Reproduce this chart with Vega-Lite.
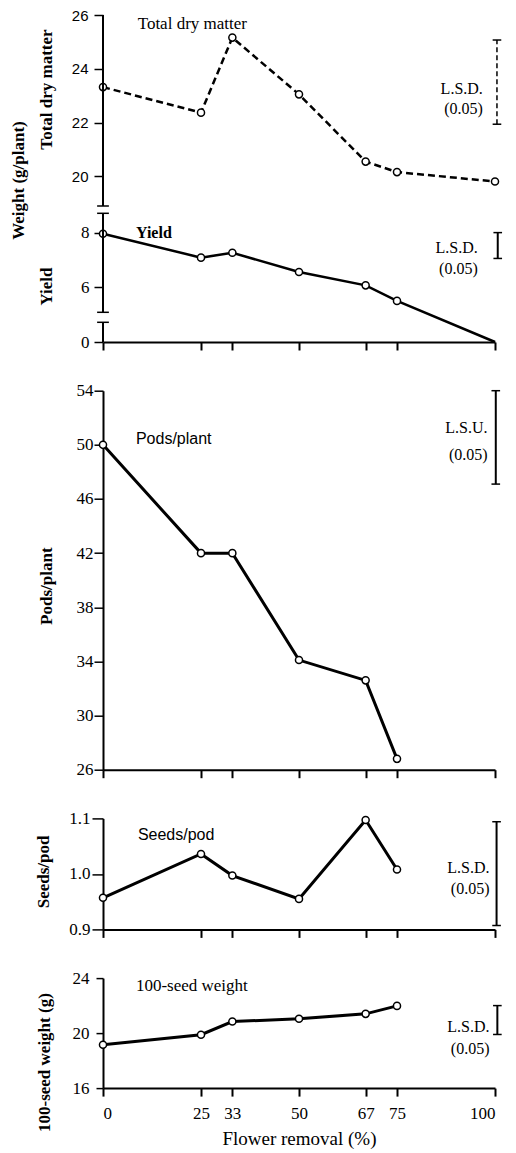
{
"$schema": "https://vega.github.io/schema/vega-lite/v6.json",
"background": "white",
"padding": {"left": 9, "top": 8, "right": 5, "bottom": 5},
"datasets": {"d": [
{"removal":0,"tdm":23.32,"yield":7.96,"pods":50.0,"seeds":0.957,"sw":19.15},
{"removal":25,"tdm":22.37,"yield":7.08,"pods":42.0,"seeds":1.036,"sw":19.88},
{"removal":33,"tdm":25.16,"yield":7.26,"pods":42.0,"seeds":0.997,"sw":20.84},
{"removal":50,"tdm":23.05,"yield":6.55,"pods":34.1,"seeds":0.955,"sw":21.04},
{"removal":67,"tdm":20.55,"yield":6.06,"pods":32.6,"seeds":1.097,"sw":21.4},
{"removal":75,"tdm":20.16,"yield":5.49,"pods":26.8,"seeds":1.008,"sw":21.98},
{"removal":100,"tdm":19.81,"yield":0,"pods":null,"seeds":null,"sw":null}
]},
"config": {
  "view": {"stroke": null},
  "axis": {"grid": false, "domainColor": "black", "domainWidth": 2, "tickColor": "black", "tickWidth": 1.5, "tickSize": 8, "labelColor": "black", "labelFont": "Liberation Serif", "labelFontSize": 17, "titleFont": "Liberation Serif", "titleFontSize": 17, "titleFontWeight": "bold", "titleColor": "black"}
},
"bounds": "flush",
"spacing": 48.7,
"vconcat": [
  {"width": 392, "height": 327,
   "data": {"name": "d"},
   "resolve": {"axis": {"x": "independent", "y": "independent"}},
   "layer": [
    {"mark": {"type":"line","color":"black","strokeWidth":2.5,"strokeDash":[7,4]},
     "encoding": {
      "x": {"field":"removal","type":"quantitative","scale":{"domain":[0,100],"nice":false,"zero":false},"axis":null},
      "y": {"field":"tdm","type":"quantitative","scale":{"domain":[0,0.71,5.07,8.71,18.9,26],"range":[327,307.3,297.3,198.3,191,0],"nice":false,"zero":false},
            "axis":{"values":[20,22,24,26],"domain":false,"title":"Total dry matter","titleX":-57,"titleY":74,"titleBaseline":"middle","labelFont":"Liberation Sans","labelFontSize":15,"labelPadding":6,"tickSize":9}}}},
    {"mark": {"type":"point","shape":"circle","filled":false,"fill":"white","fillOpacity":1,"stroke":"black","strokeWidth":1.5,"size":50,"opacity":1},
     "encoding": {"x":{"field":"removal","type":"quantitative","axis":null},
      "y":{"field":"tdm","type":"quantitative","axis":{"orient":"left","title":"Weight (g/plant)","labels":false,"ticks":false,"domain":false,"titleX":-85,"titleY":165,"titleBaseline":"middle"}}}},
    {"mark": {"type":"line","color":"black","strokeWidth":2.5},
     "encoding": {
      "x": {"field":"removal","type":"quantitative","axis":{"values":[0,25,33,50,67,75,100],"labels":false,"title":null,"tickSize":8,"tickWidth":2}},
      "y": {"field":"yield","type":"quantitative",
            "axis":{"orient":"left","values":[0,6,8],"title":"Yield","titleX":-57,"titleY":271,"titleBaseline":"middle","domain":false,"labelFont":"Liberation Serif","labelPadding":5,"tickSize":9}}}},
    {"transform":[{"filter":"datum.removal < 100"}],
     "mark": {"type":"point","shape":"circle","filled":false,"fill":"white","fillOpacity":1,"stroke":"black","strokeWidth":1.5,"size":50,"opacity":1},
     "encoding": {"x":{"field":"removal","type":"quantitative","axis":null},"y":{"field":"yield","type":"quantitative","axis":null}}},
    {"data":{"values":[{"lo":18.9,"hi":26},{"lo":5.07,"hi":8.71},{"lo":0,"hi":0.71}]},"mark":{"type":"rule","color":"black","strokeWidth":2},
     "encoding":{"x":{"datum":0,"axis":null},"y":{"field":"lo","type":"quantitative","axis":null},"y2":{"field":"hi"}}},
    {"data":{"values":[{"v":18.9},{"v":8.71},{"v":5.07},{"v":0.71}]},"mark":{"type":"rule","color":"black","strokeWidth":1.5},
     "encoding":{"x":{"datum":-1.5,"axis":null},"x2":{"datum":1.5},"y":{"field":"v","type":"quantitative","axis":null}}},
    {"data":{"values":[{"lo":21.94,"hi":25.07}]},"mark":{"type":"rule","color":"black","strokeWidth":1.5,"strokeDash":[5,3]},
     "encoding":{"x":{"datum":100.5,"axis":null},"y":{"field":"lo","type":"quantitative","axis":null},"y2":{"field":"hi"}}},
    {"data":{"values":[{"v":21.94},{"v":25.07}]},"mark":{"type":"rule","color":"black","strokeWidth":1.5},
     "encoding":{"x":{"datum":99.4,"axis":null},"x2":{"datum":101.6},"y":{"field":"v","type":"quantitative","axis":null}}},
    {"data":{"values":[{"lo":7.05,"hi":8.0}]},"mark":{"type":"rule","color":"black","strokeWidth":2},
     "encoding":{"x":{"datum":100.7,"axis":null},"y":{"field":"lo","type":"quantitative","axis":null},"y2":{"field":"hi"}}},
    {"data":{"values":[{"v":7.05},{"v":8.0}]},"mark":{"type":"rule","color":"black","strokeWidth":1.5},
     "encoding":{"x":{"datum":99.6,"axis":null},"x2":{"datum":101.8},"y":{"field":"v","type":"quantitative","axis":null}}},
    {"data":{"values":[{}]},"mark":{"type":"text","text":"Total dry matter","align":"left","baseline":"middle","font":"Liberation Serif","fontSize":17,"color":"black"},
     "encoding":{"x":{"datum":8.85,"axis":null},"y":{"datum":25.65,"axis":null}}},
    {"data":{"values":[{}]},"mark":{"type":"text","text":["L.S.D.","(0.05)"],"lineHeight":20,"align":"right","baseline":"middle","font":"Liberation Serif","fontSize":16,"color":"black"},
     "encoding":{"x":{"datum":96.9,"axis":null},"y":{"datum":23.24,"axis":null}}},
    {"data":{"values":[{}]},"mark":{"type":"text","text":"Yield","align":"left","baseline":"middle","font":"Liberation Serif","fontSize":16,"fontWeight":"bold","color":"black"},
     "encoding":{"x":{"datum":8.4,"axis":null},"y":{"datum":8.0,"axis":null}}},
    {"data":{"values":[{}]},"mark":{"type":"text","text":["L.S.D.","(0.05)"],"lineHeight":21,"align":"right","baseline":"middle","font":"Liberation Serif","fontSize":16,"color":"black"},
     "encoding":{"x":{"datum":95.6,"axis":null},"y":{"datum":7.42,"axis":null}}}
   ]},
 {"width": 392, "height": 379,
  "data": {"name": "d"},
  "transform": [{"filter": "isValid(datum.pods)"}],
  "resolve": {"axis": {"x": "independent", "y": "independent"}},
  "layer": [
    {"mark": {"type":"line","color":"black","strokeWidth":3},
     "encoding": {
      "x": {"field":"removal","type":"quantitative","scale":{"domain":[0,100],"nice":false,"zero":false},"axis":{"values":[0,25,33,50,67,75,100],"labels":false,"title":null,"tickSize":8,"tickWidth":2}},
      "y": {"field":"pods","type":"quantitative","scale":{"domain":[26,54],"nice":false,"zero":false},
            "axis":{"values":[26,30,34,38,42,46,50,54],"title":"Pods/plant","titleX":-57,"titleY":195,"titleBaseline":"middle","labelFont":"Liberation Serif","labelFontSize":17,"labelPadding":1,"tickSize":9}}}},
    {"mark": {"type":"point","shape":"circle","filled":false,"fill":"white","fillOpacity":1,"stroke":"black","strokeWidth":1.5,"size":50,"opacity":1},
     "encoding": {"x":{"field":"removal","type":"quantitative","axis":null},"y":{"field":"pods","type":"quantitative","axis":null}}},
    {"data":{"values":[{"lo":47.1,"hi":54}]},"mark":{"type":"rule","color":"black","strokeWidth":2},
     "encoding":{"x":{"datum":100.2,"axis":null},"y":{"field":"lo","type":"quantitative","axis":null},"y2":{"field":"hi"}}},
    {"data":{"values":[{"v":47.1},{"v":54}]},"mark":{"type":"rule","color":"black","strokeWidth":1.5},
     "encoding":{"x":{"datum":99.1,"axis":null},"x2":{"datum":101.3},"y":{"field":"v","type":"quantitative","axis":null}}},
    {"data":{"values":[{}]},"mark":{"type":"text","text":"Pods/plant","align":"left","baseline":"middle","font":"Liberation Sans","fontSize":16,"color":"black"},
     "encoding":{"x":{"datum":8.4,"axis":null},"y":{"datum":50.43,"axis":null}}},
    {"data":{"values":[{}]},"mark":{"type":"text","text":["L.S.U.","(0.05)"],"lineHeight":27,"align":"right","baseline":"middle","font":"Liberation Serif","fontSize":16,"color":"black"},
     "encoding":{"x":{"datum":98.1,"axis":null},"y":{"datum":51.21,"axis":null}}}
  ]},
 {"width": 392, "height": 111,
  "data": {"name": "d"},
  "transform": [{"filter": "isValid(datum.seeds)"}],
  "resolve": {"axis": {"x": "independent", "y": "independent"}},
  "layer": [
    {"mark": {"type":"line","color":"black","strokeWidth":3},
     "encoding": {
      "x": {"field":"removal","type":"quantitative","scale":{"domain":[0,100],"nice":false,"zero":false},"axis":{"values":[0,25,33,50,67,75,100],"labels":false,"title":null,"tickSize":8,"tickWidth":2}},
      "y": {"field":"seeds","type":"quantitative","scale":{"domain":[0.9,1.1],"nice":false,"zero":false},
            "axis":{"values":[0.9,1.0,1.1],"format":".1f","title":"Seeds/pod","titleX":-60,"titleY":53,"titleBaseline":"middle","labelFont":"Liberation Serif","labelFontSize":17,"labelPadding":2,"tickSize":11}}}},
    {"mark": {"type":"point","shape":"circle","filled":false,"fill":"white","fillOpacity":1,"stroke":"black","strokeWidth":1.5,"size":50,"opacity":1},
     "encoding": {"x":{"field":"removal","type":"quantitative","axis":null},"y":{"field":"seeds","type":"quantitative","axis":null}}},
    {"data":{"values":[{"lo":0.907,"hi":1.094}]},"mark":{"type":"rule","color":"black","strokeWidth":2},
     "encoding":{"x":{"datum":100.4,"axis":null},"y":{"field":"lo","type":"quantitative","axis":null},"y2":{"field":"hi"}}},
    {"data":{"values":[{"v":0.907},{"v":1.094}]},"mark":{"type":"rule","color":"black","strokeWidth":1.5},
     "encoding":{"x":{"datum":99.3,"axis":null},"x2":{"datum":101.5},"y":{"field":"v","type":"quantitative","axis":null}}},
    {"data":{"values":[{}]},"mark":{"type":"text","text":"Seeds/pod","align":"left","baseline":"middle","font":"Liberation Sans","fontSize":16,"color":"black"},
     "encoding":{"x":{"datum":8.9,"axis":null},"y":{"datum":1.07,"axis":null}}},
    {"data":{"values":[{}]},"mark":{"type":"text","text":["L.S.D.","(0.05)"],"lineHeight":21,"align":"right","baseline":"middle","font":"Liberation Serif","fontSize":16,"color":"black"},
     "encoding":{"x":{"datum":98.6,"axis":null},"y":{"datum":1.0099,"axis":null}}}
  ]},
 {"width": 392, "height": 110,
  "data": {"name": "d"},
  "transform": [{"filter": "isValid(datum.sw)"}],
  "resolve": {"axis": {"x": "independent", "y": "independent"}},
  "layer": [
    {"mark": {"type":"line","color":"black","strokeWidth":3},
     "encoding": {
      "x": {"field":"removal","type":"quantitative","scale":{"domain":[0,100],"nice":false,"zero":false},"axis":{"values":[0,25,33,50,67,75,100],"title":"Flower removal (%)","titleFont":"Liberation Serif","titleFontWeight":"normal","titleFontSize":19,"titlePadding":8,"labelFont":"Liberation Serif","labelFontSize":17,"labelPadding":9,"tickSize":8,"tickWidth":2}},
      "y": {"field":"sw","type":"quantitative","scale":{"domain":[16,24],"nice":false,"zero":false},
            "axis":{"values":[16,20,24],"title":"100-seed weight (g)","titleX":-59,"titleY":84,"titleBaseline":"middle","labelFont":"Liberation Serif","labelFontSize":17,"labelPadding":7,"tickSize":7}}}},
    {"mark": {"type":"point","shape":"circle","filled":false,"fill":"white","fillOpacity":1,"stroke":"black","strokeWidth":1.5,"size":50,"opacity":1},
     "encoding": {"x":{"field":"removal","type":"quantitative","axis":null},"y":{"field":"sw","type":"quantitative","axis":null}}},
    {"data":{"values":[{"lo":19.9,"hi":22.0}]},"mark":{"type":"rule","color":"black","strokeWidth":2},
     "encoding":{"x":{"datum":100.6,"axis":null},"y":{"field":"lo","type":"quantitative","axis":null},"y2":{"field":"hi"}}},
    {"data":{"values":[{"v":19.9},{"v":22.0}]},"mark":{"type":"rule","color":"black","strokeWidth":1.5},
     "encoding":{"x":{"datum":99.5,"axis":null},"x2":{"datum":101.7},"y":{"field":"v","type":"quantitative","axis":null}}},
    {"data":{"values":[{}]},"mark":{"type":"text","text":"100-seed weight","align":"left","baseline":"middle","font":"Liberation Serif","fontSize":17,"color":"black"},
     "encoding":{"x":{"datum":8.4,"axis":null},"y":{"datum":23.44,"axis":null}}},
    {"data":{"values":[{}]},"mark":{"type":"text","text":["L.S.D.","(0.05)"],"lineHeight":22,"align":"right","baseline":"middle","font":"Liberation Serif","fontSize":16,"color":"black"},
     "encoding":{"x":{"datum":98.6,"axis":null},"y":{"datum":20.48,"axis":null}}}
  ]}
]
}
